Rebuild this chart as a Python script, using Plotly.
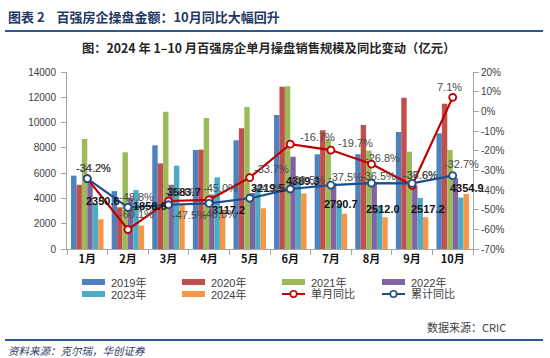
import plotly.graph_objects as go

# ---------------- data ----------------
MONTHS = ["1月", "2月", "3月", "4月", "5月", "6月", "7月", "8月", "9月", "10月"]
Y2019 = [5800, 4580, 8200, 7830, 8600, 10600, 7490, 7500, 9260, 9150]
Y2020 = [5080, 3300, 6770, 7860, 9550, 12830, 9390, 9810, 11960, 11480]
Y2021 = [8700, 7650, 10850, 10370, 11240, 12880, 8700, 7780, 7700, 7830]
Y2022 = [5300, 4050, 5080, 4310, 4430, 7300, 5200, 5200, 5000, 5610]
Y2023 = [3570, 4660, 6590, 5670, 4860, 5270, 3480, 3430, 4040, 4070]
Y2024 = [2350.6, 1858.6, 3583.7, 3117.2, 3219.5, 4389.3, 2790.7, 2512.0, 2517.2, 4354.9]
SINGLE_YOY = [-34.2, -60.1, -45.6, -45.0, -33.7, -16.7, -19.7, -26.8, -37.6, 7.1]
CUM_YOY = [-34.2, -48.8, -47.5, -46.8, -44.2, -39.5, -37.5, -36.5, -36.6, -32.7]
YEAR_NAMES = ["2019年", "2020年", "2021年", "2022年", "2023年", "2024年"]
LEFT_TICKS = [0, 2000, 4000, 6000, 8000, 10000, 12000, 14000]
RIGHT_TICKS = [20, 10, 0, -10, -20, -30, -40, -50, -60, -70]

# ---------------- styles ----------------
BAR_COLORS = ["#4F81BD", "#C0504D", "#9BBB59", "#8064A2", "#4BACC6", "#F79646"]
RED = "#C00000"
NAVY_LINE = "#1F4E8C"
TITLE_BLUE = "#1F3864"
AXIS_GRAY = "#A6A6A6"
FONT = "Arial, 'Liberation Sans', 'Noto Sans CJK SC', sans-serif"
CJK = "'Noto Sans CJK SC', Arial, sans-serif"

# label offsets (pixels, dx right, dy down)
ORANGE_OFF = [(16, -18), (22, -20), (15, -12), (19, 0), (18, -20),
              (13, -13), (10, -10), (11, -8), (16, -8), (14, -6)]
SINGLE_OFF = [(6, -11), (9, -16), (14, -9), (11, -12), (22, -9),
              (27, -7), (25, -7), (11, -6), (8, -10), (-3, -10)]
CUM_OFF = [(6, -11), (9, -10), (21, 10), (10, 11), (20, -10),
           (17, -9), (15, -8), (7, -7), (8, -8), (9, -12)]

# plot area pixel geometry
W_FIG, H_FIG = 550, 358
L, R, T, B = 67, 473, 72, 249
PW, PH = R - L, B - T


def px(x):
    return (x - L) / PW


def py(y):
    return (B - y) / PH


fig = go.Figure()

series = [Y2019, Y2020, Y2021, Y2022, Y2023, Y2024]
for name, vals, col in zip(YEAR_NAMES, series, BAR_COLORS):
    fig.add_trace(go.Bar(x=MONTHS, y=vals, name=name, marker_color=col,
                         marker_line_width=0, showlegend=False, yaxis="y"))

fig.add_trace(go.Scatter(x=MONTHS, y=SINGLE_YOY, name="单月同比", yaxis="y2",
                         mode="lines+markers", showlegend=False,
                         line=dict(color=RED, width=2.2),
                         marker=dict(size=7, color="white", line=dict(color=RED, width=1.8))))
fig.add_trace(go.Scatter(x=MONTHS, y=CUM_YOY, name="累计同比", yaxis="y2",
                         mode="lines+markers", showlegend=False,
                         line=dict(color=NAVY_LINE, width=2.2),
                         marker=dict(size=7, color="white", line=dict(color=NAVY_LINE, width=1.8))))

ann = []
# orange (2024) value labels
for m, v, (dx, dy) in zip(MONTHS, Y2024, ORANGE_OFF):
    ann.append(dict(x=m, y=v, xref="x", yref="y", text=f"<b>{v:.1f}</b>",
                    showarrow=False, xshift=dx, yshift=-dy,
                    font=dict(family=FONT, size=11, color="#111111")))
# yoy labels
for vals, offs in [(CUM_YOY, CUM_OFF), (SINGLE_YOY, SINGLE_OFF)]:
    for m, v, (dx, dy) in zip(MONTHS, vals, offs):
        ann.append(dict(x=m, y=v, xref="x", yref="y2", text=f"{v:.1f}%",
                        showarrow=False, xshift=dx, yshift=-dy,
                        font=dict(family=FONT, size=11, color="#4A4A4A")))

# titles
ann.append(dict(x=px(6), y=py(16), xref="paper", yref="paper", xanchor="left", yanchor="middle",
                text="<b>图表 2    百强房企操盘金额：10月同比大幅回升</b>", showarrow=False,
                font=dict(family=CJK, size=13, color=TITLE_BLUE)))
ann.append(dict(x=px(268), y=py(48), xref="paper", yref="paper", xanchor="center", yanchor="middle",
                text="<b>图：2024 年 1–10 月百强房企单月操盘销售规模及同比变动（亿元）</b>", showarrow=False,
                font=dict(family=CJK, size=12.3, color="#262626")))
ann.append(dict(x=px(508), y=py(327), xref="paper", yref="paper", xanchor="right", yanchor="middle",
                text="数据来源：CRIC", showarrow=False,
                font=dict(family=CJK, size=11, color="#404040")))
ann.append(dict(x=px(6), y=py(350), xref="paper", yref="paper", xanchor="left", yanchor="middle",
                text="<i>资料来源：克尔瑞，华创证券</i>", showarrow=False,
                font=dict(family=CJK, size=10.5, color=TITLE_BLUE)))

shapes = []
for yy in (31, 340):
    shapes.append(dict(type="line", xref="paper", yref="paper", x0=px(5), x1=px(543),
                       y0=py(yy), y1=py(yy), line=dict(color="#2F5597", width=2)))

# manual legend
COL_X = [82, 182, 282, 382]
ROW_Y = [282, 294]
legend_items = [(YEAR_NAMES[i], "bar", BAR_COLORS[i]) for i in range(6)]
legend_items += [("单月同比", "line", RED), ("累计同比", "line", NAVY_LINE)]
for i, (label, kind, col) in enumerate(legend_items):
    cx = COL_X[i % 4]
    cy = ROW_Y[i // 4]
    if kind == "bar":
        shapes.append(dict(type="rect", xref="paper", yref="paper", x0=px(cx), x1=px(cx + 23),
                           y0=py(cy + 3), y1=py(cy - 3), fillcolor=col, line=dict(width=0)))
    else:
        shapes.append(dict(type="line", xref="paper", yref="paper", x0=px(cx), x1=px(cx + 23),
                           y0=py(cy), y1=py(cy), line=dict(color=col, width=2)))
        mx = cx + 11.5
        shapes.append(dict(type="circle", xref="paper", yref="paper", x0=px(mx - 3.2), x1=px(mx + 3.2),
                           y0=py(cy + 3.2), y1=py(cy - 3.2), fillcolor="white",
                           line=dict(color=col, width=1.6)))
    ann.append(dict(x=px(cx + 27), y=py(cy), xref="paper", yref="paper", xanchor="left",
                    yanchor="middle", text=label, showarrow=False,
                    font=dict(family=FONT, size=11, color="#404040")))

fig.update_layout(
    width=W_FIG, height=H_FIG,
    margin=dict(l=L, r=W_FIG - R, t=T, b=H_FIG - B, pad=0),
    paper_bgcolor="white", plot_bgcolor="white",
    barmode="group", bargap=0.2, bargroupgap=0,
    font=dict(family=FONT, size=10, color="#404040"),
    xaxis=dict(showgrid=False, showline=True, linecolor=AXIS_GRAY, linewidth=1,
               ticks="outside", tickson="boundaries", ticklen=5, tickcolor=AXIS_GRAY,
               tickfont=dict(family=CJK, size=11, color="#111111"), tickprefix="<b>", ticksuffix="</b>",
               range=[-0.5, len(MONTHS) - 0.5], fixedrange=True),
    yaxis=dict(range=[0, 14000], tickvals=LEFT_TICKS, ticktext=[str(t) for t in LEFT_TICKS],
               showgrid=False, zeroline=False,
               showline=True, linecolor=AXIS_GRAY, ticks="outside", ticklen=5,
               tickcolor=AXIS_GRAY, tickfont=dict(size=10, color="#404040"), ticklabelstandoff=3),
    yaxis2=dict(range=[-70, 20], tickvals=RIGHT_TICKS, ticktext=[f"{t}%" for t in RIGHT_TICKS],
                overlaying="y", side="right", showgrid=False, zeroline=False,
                showline=True, linecolor=AXIS_GRAY, ticks="outside", ticklen=5,
                tickcolor=AXIS_GRAY, tickfont=dict(size=10, color="#404040")),
    annotations=ann, shapes=shapes,
)

fig.write_html("out.html", config={"displayModeBar": False},
               post_script="document.body.style.margin='0';document.body.style.overflow='hidden';")
